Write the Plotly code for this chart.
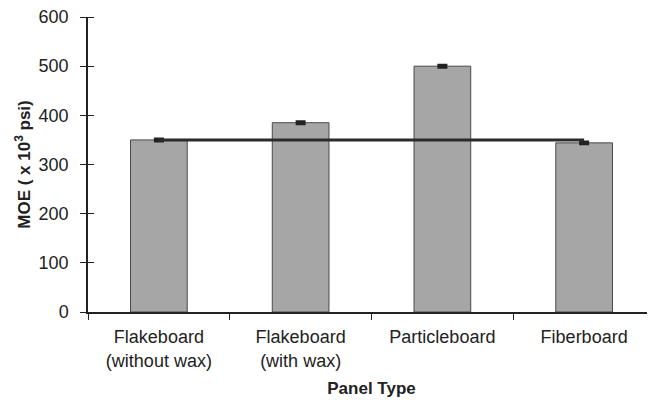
import plotly.graph_objects as go

categories = ["Flakeboard<br>(without wax)", "Flakeboard<br>(with wax)", "Particleboard", "Fiberboard"]
moe_values = [350, 385, 500, 344]
moe_errors = [2, 2, 2, 2]
reference_line = [350, 350, 350, 350]
y_ticks = [0, 100, 200, 300, 400, 500, 600]

font_family = "Liberation Sans, Arial, sans-serif"

fig = go.Figure()
fig.add_trace(go.Bar(
    x=categories, y=moe_values,
    marker=dict(color="#a6a6a6", line=dict(color="#4a4a4a", width=1)),
    width=0.40,
    error_y=dict(type="data", array=moe_errors, visible=True, color="#222222", thickness=3, width=5),
    showlegend=False,
))
fig.add_trace(go.Scatter(
    x=categories, y=reference_line, mode="lines",
    line=dict(color="#2b2b2b", width=3), showlegend=False,
))

# page body has an 8px margin, so the figure is sized to fit the 655x400 window
fig.update_layout(
    width=647, height=392,
    margin=dict(l=80, r=0, t=9, b=88, autoexpand=False),
    plot_bgcolor="white", paper_bgcolor="white",
    font=dict(family=font_family, size=17, color="#222222"),
)
fig.update_xaxes(
    type="category", range=[-0.5, 3.5], automargin=False,
    showline=True, linecolor="#222222", linewidth=1.5,
    ticks="outside", ticklen=6, tickcolor="#222222", tickson="boundaries",
    showgrid=False, zeroline=False,
    tickfont=dict(size=18), ticklabelstandoff=8,
    title=dict(text="<b>Panel Type</b>", font=dict(size=17), standoff=12),
)
fig.update_yaxes(
    range=[0, 600], tickvals=y_ticks, ticktext=[str(v) for v in y_ticks],
    automargin=False, ticklabeloverflow="allow",
    showline=True, linecolor="#222222", linewidth=1.5,
    ticks="outside", ticklen=6, tickcolor="#222222",
    minor=dict(tickvals=y_ticks, ticks="inside", ticklen=6, tickcolor="#222222"),
    showgrid=False, zeroline=False,
    tickfont=dict(size=18), ticklabelstandoff=8,
    title=dict(text="<b>MOE ( x 10<sup>3</sup> psi)</b>", font=dict(size=17), standoff=4),
)

fig.write_html("out.html")
